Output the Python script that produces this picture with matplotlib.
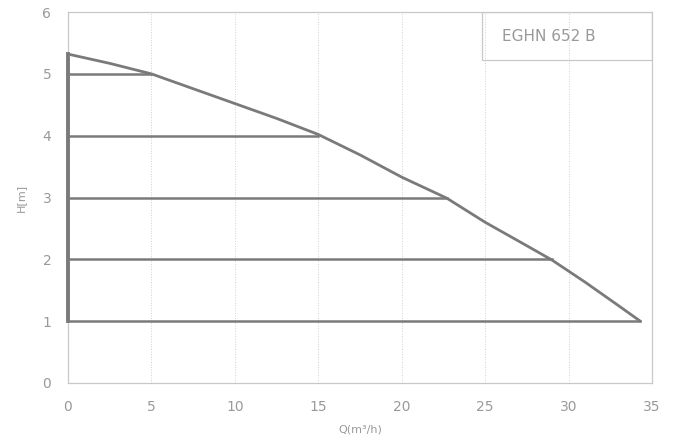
import matplotlib.pyplot as plt

# pump curve EGHN 652 B
q_curve = [0, 2.5, 5, 7.5, 10, 12.5, 15, 17.5, 20, 22.7, 25, 27.5, 29, 31, 33, 34.3]
h_curve = [5.32, 5.17, 5.0, 4.76, 4.52, 4.28, 4.02, 3.69, 3.33, 2.99, 2.6, 2.22, 1.99, 1.63, 1.25, 1.0]

# horizontal levels and where they meet the curve
h_levels = [1, 2, 3, 4, 5]
q_ends = [34.3, 29.0, 22.7, 15.0, 5.0]

x_ticks = [0, 5, 10, 15, 20, 25, 30, 35]
y_ticks = [0, 1, 2, 3, 4, 5, 6]

line_col = '#7a7a7a'
text_col = '#999999'


def pump_chart():
    fig = plt.figure(figsize=(6.77, 4.46), dpi=100)
    ax = fig.add_axes([0.1004, 0.1413, 0.8626, 0.8317])

    ax.plot(q_curve, h_curve, color=line_col, lw=2, solid_capstyle='round')
    for h, q in zip(h_levels, q_ends):
        ax.plot([0, q], [h, h], color=line_col, lw=1.8)
    ax.plot([0, 0], [h_levels[0], h_curve[0]], color=line_col, lw=2.8,
            clip_on=False, zorder=4)

    ax.set_xlim(0, 35)
    ax.set_ylim(0, 6)
    ax.set_xticks(x_ticks)
    ax.set_yticks(y_ticks)
    for x in x_ticks[1:-1]:
        ax.axvline(x, color='#d0d0d0', lw=0.7, ls=':', zorder=0)

    for s in ax.spines.values():
        s.set_color('#c8c8c8')
        s.set_linewidth(0.9)
    ax.tick_params(length=0, pad=12, labelsize=10, labelcolor=text_col)

    ax.set_xlabel('Q(m³/h)', fontsize=8, color=text_col, labelpad=8)
    ax.set_ylabel('H[m]', fontsize=8, color=text_col, labelpad=12)

    # model label box
    ax.add_patch(plt.Rectangle((24.8, 5.22), 10.2, 0.78, fill=False,
                               edgecolor='#c8c8c8', lw=0.9))
    ax.text(26.0, 5.6, 'EGHN 652 B', fontsize=11, color=text_col,
            va='center', ha='left')

    fig.savefig('out.png', dpi=100)


if __name__ == '__main__':
    pump_chart()
